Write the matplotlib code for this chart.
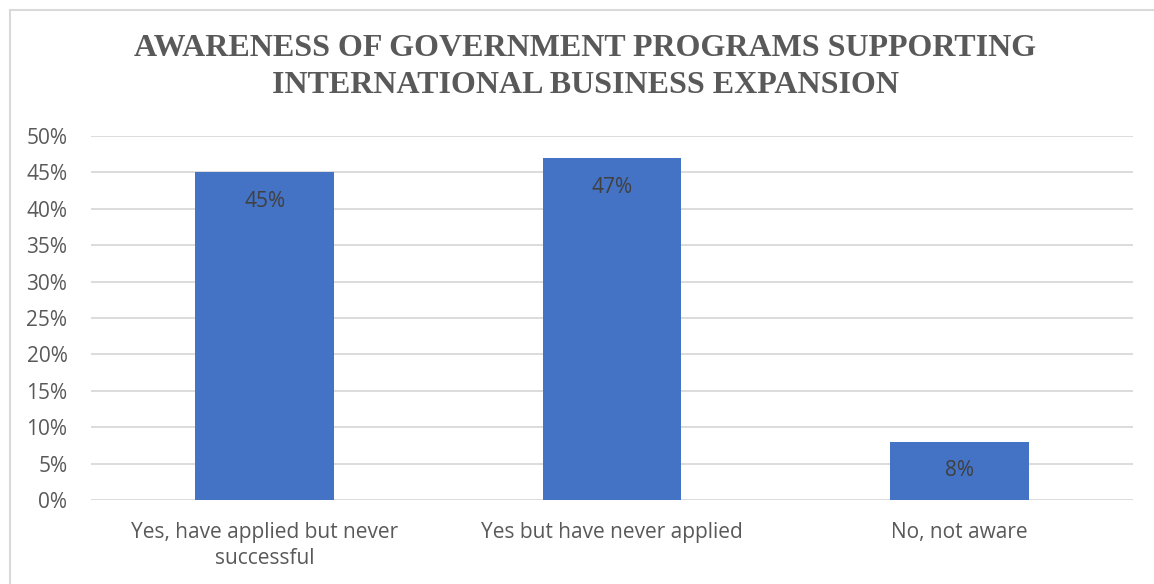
import matplotlib
matplotlib.use("Agg")
import matplotlib.pyplot as plt
from matplotlib.patches import Rectangle

categories = ["Yes, have applied but never\nsuccessful", "Yes but have never applied", "No, not aware"]
values = [45, 47, 8]
yticks = [0, 5, 10, 15, 20, 25, 30, 35, 40, 45, 50]
title = "AWARENESS OF GOVERNMENT PROGRAMS SUPPORTING\nINTERNATIONAL BUSINESS EXPANSION"

W, H = 1154, 584
fig = plt.figure(figsize=(W / 100, H / 100), dpi=100)
fig.patch.set_facecolor("white")

# chart frame (light gray border, open at right/bottom edges)
fig.patches.append(Rectangle((10 / W, -0.05), 1.2, (H - 10) / H + 0.05,
                             transform=fig.transFigure, fill=False,
                             edgecolor="#D9D9D9", linewidth=1.5))

left, right = 91 / W, 1133 / W
bottom, top = 1 - 500 / H, 1 - 136 / H
ax = fig.add_axes([left, bottom, right - left, top - bottom])

text_color = "#595959"
font = "Open Sans"
fs = 15

x = range(len(categories))
bars = ax.bar(x, values, width=0.4, color="#4472C4", zorder=3)
ax.set_xlim(-0.5, len(categories) - 0.5)
ax.set_ylim(0, 50)
ax.set_yticks(yticks)
ax.set_yticklabels([f"{t}%" for t in yticks], fontsize=fs, color=text_color, family=font)
ax.set_xticks(list(x))
ax.set_xticklabels(categories, fontsize=fs, color=text_color, family=font, linespacing=1.3)
ax.tick_params(axis="both", length=0)
ax.tick_params(axis="y", pad=17)
ax.tick_params(axis="x", pad=16)
ax.grid(axis="y", color="#D9D9D9", linewidth=1.3, zorder=0)
for s in ax.spines.values():
    s.set_visible(False)

for b, v in zip(bars, values):
    ax.annotate(f"{v}%", (b.get_x() + b.get_width() / 2, v), xytext=(0, -21),
                textcoords="offset points", ha="center", va="center",
                fontsize=fs, color="#404040", family=font, zorder=4)

fig.text(585 / W, 1 - 67 / H, title, ha="center", va="center",
         fontsize=23, fontweight="bold", family="Liberation Serif",
         color=text_color, linespacing=1.38)

fig.savefig("out.png", dpi=100)
